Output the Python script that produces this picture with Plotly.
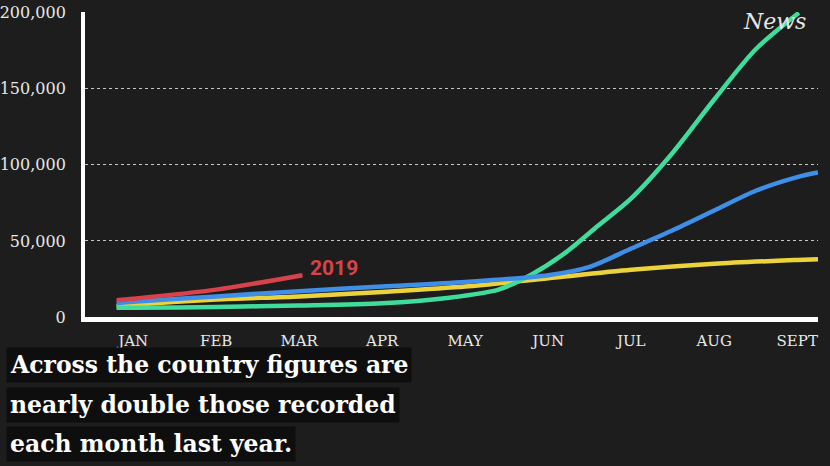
import plotly.graph_objects as go

months = ["JAN", "FEB", "MAR", "APR", "MAY", "JUN", "JUL", "AUG", "SEPT"]
month_pos = list(range(len(months)))

# 2019 (red) - only Jan-Mar
red_x = [-0.2, 0, 1, 2.04]
red_y = [11000, 12000, 18000, 27500]

# blue
blue_x = [-0.2, 0, 1, 2, 3, 4, 5, 5.5, 6, 6.5, 7, 7.5, 8, 8.25]
blue_y = [9000, 10000, 13500, 17000, 20000, 23000, 27500, 33000, 45000, 57000, 70000, 83000, 92000, 95000]

# yellow
yellow_x = [-0.2, 0, 1, 2, 3, 4, 5, 6, 7, 8, 8.25]
yellow_y = [7000, 8000, 11500, 13500, 16500, 20000, 25500, 31000, 35000, 37500, 38000]

# green
green_x = [-0.2, 0, 1, 2, 3, 3.78, 4.4, 4.8, 5.2, 5.6, 6, 6.5, 7, 7.5, 8.02]
green_y = [6000, 6000, 6600, 7500, 9000, 12500, 18000, 28000, 42000, 60000, 78000, 108000, 143000, 176000, 200000]

y_ticks = [0, 50000, 100000, 150000, 200000]
y_labels = ["0", "50,000", "100,000", "150,000", "200,000"]

caption = ["Across the country figures are", "nearly double those recorded", "each month last year."]

BG = "#1d1d1d"
fig = go.Figure()

def add(x, y, color):
    fig.add_trace(go.Scatter(x=x, y=y, mode="lines", line=dict(color=color, width=4.5, shape="spline", smoothing=0.8),
                             hoverinfo="skip", showlegend=False, cliponaxis=False))

add(yellow_x, yellow_y, "#ecd33c")
add(green_x, green_y, "#3fdc9c")
add(blue_x, blue_y, "#3f8ee8")
add(red_x, red_y, "#d8434b")

fig.add_annotation(x=2.42, y=32500, text="<b>2019</b>", showarrow=False, font=dict(family="Roboto", size=21, color="#d8434b"))

fig.add_annotation(xref="paper", yref="paper", x=0.94, y=0.97, xanchor="center", yanchor="middle",
                   text="<i>News</i>", showarrow=False,
                   font=dict(family="DejaVu Serif", size=22, color="#e6e6e6"))

for i, line in enumerate(caption):
    fig.add_annotation(xref="paper", yref="paper", x=-0.108, y=-0.157 - i * 0.13, xanchor="left", yanchor="middle",
                       text="<b>" + line + "</b>", showarrow=False, bgcolor="#0e0e0e",
                       font=dict(family="DejaVu Serif", size=23.5, color="white"), borderpad=3)

fig.update_layout(
    width=830, height=466,
    margin=dict(l=85, r=12, t=12, b=149),
    paper_bgcolor=BG, plot_bgcolor=BG,
    xaxis=dict(range=[-0.58, 8.25], tickmode="array", tickvals=month_pos, ticktext=months, automargin=False,
               showgrid=False, zeroline=False, showline=True, linecolor="white", linewidth=5,
               tickfont=dict(family="DejaVu Serif", size=15, color="#e8e8e8"), ticks="outside", ticklen=6,
               tickcolor="rgba(0,0,0,0)"),
    yaxis=dict(range=[0, 200500], tickmode="array", tickvals=y_ticks, ticktext=y_labels, automargin=False,
               showgrid=True, gridcolor="rgba(255,255,255,0.75)", gridwidth=1, griddash="dot",
               zeroline=False, showline=True, linecolor="white", linewidth=4,
               tickfont=dict(family="DejaVu Serif", size=16, color="#e8e8e8"), ticks="outside", ticklen=12,
               tickcolor="rgba(0,0,0,0)"),
)

fig.write_html("out.html")
